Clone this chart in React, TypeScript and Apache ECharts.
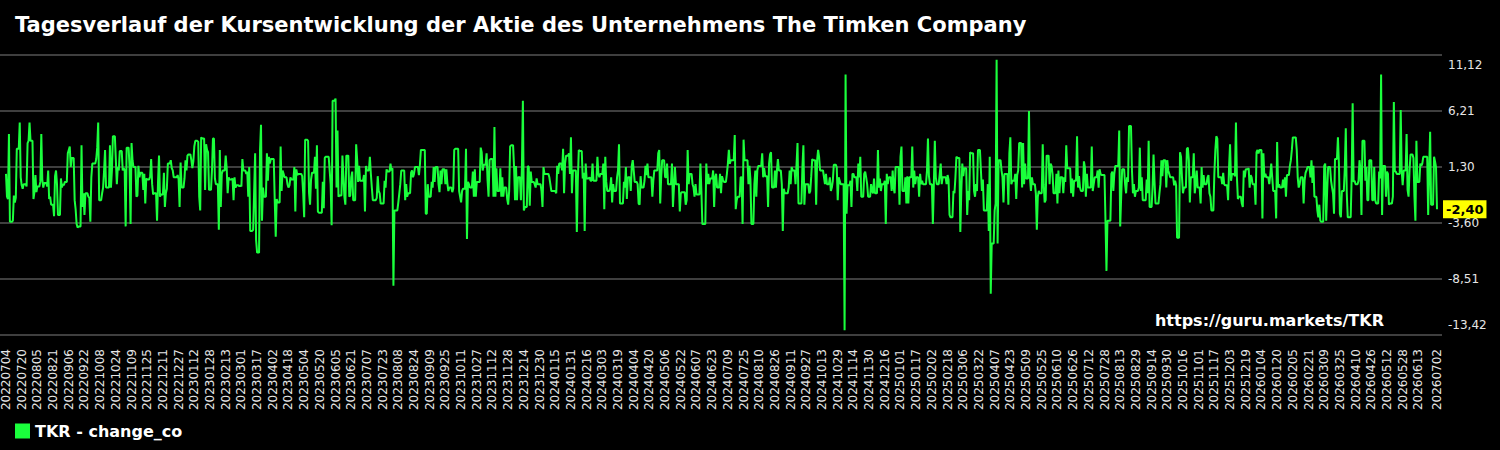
import React, { useEffect, useRef } from 'react';
import * as echarts from 'echarts';

const TITLE = 'Tagesverlauf der Kursentwicklung der Aktie des Unternehmens The Timken Company';
const SERIES_NAME = 'TKR - change_co';
const WATERMARK = 'https://guru.markets/TKR';
const START_DATE = '2022-07-04';
const Y_MIN = -13.42;
const Y_MAX = 11.12;
const yTickLabels = ['-13,42', '-8,51', '-3,60', '1,30', '6,21', '11,12'];
const LABEL_STEP = 16;

// daily change in %, one value per calendar day (weekends repeat Friday)
const seg1 = [
  0.7, -1.3, -1.5, 4.2, -3.5, -3.5, -3.5,
  -3.4, -1.2, -1.8, -1.4, 2.9, 2.9, 2.9,
  5.2, 0.4, -0.3, -0.6, -0.2, -0.2, -0.2,
  -0.4, 3.4, 3.6, 5.2, 3.6, 3.6, 3.6,
  -1.5, -0.9, 0.6, -0.9, -0.4, -0.4, -0.4,
  0.0, 4.2, 0.2, -0.5, -0.1, -0.1, -0.1,
  -0.4, 1.0, -1.5, -1.3, -2.0, -2.0, -2.0,
  -3.0, 0.5, 1.0, -0.2, -2.9, -2.9, -2.9,
  0.3, -0.5, -0.2, -0.3, 0.0, 0.0, 0.0,
  2.5, 2.8, 3.1, 1.3, 2.1, 2.1, 2.1,
  -1.6, -2.4, -3.7, -4.0, -3.9, -3.9, -3.9,
  3.2, -2.2, -1.0, -2.9, -1.0, -1.0, -1.0,
  -1.3, -1.4, -3.5, 0.4, 1.6, 1.6, 1.6,
  1.6, 2.0, 3.0, 5.2, -1.6, -1.6, -1.6,
  -1.0, -0.5, 1.0, 2.8, -0.5, -0.5, -0.5,
  -0.5, 3.2, -0.5, 1.0, 4.0, 4.0, 4.0,
  1.9, -0.2, 1.3, 1.0, 2.7, 2.7, 2.7,
  1.0, 1.2, 1.0, -3.9, 3.0, 3.0, 3.0,
  1.3, -3.7, 3.4, 1.9, 1.3, 1.3, 1.3,
  -1.3, -1.2, 1.4, 0.4, 0.8, 0.8, 0.8,
  -0.7, 0.7, -1.9, 0.3, 0.2, 0.2, 0.2,
  0.5, 2.0, -0.2, -1.1, -1.0, -1.0, -1.0,
  -3.4, 0.0, 2.3, -1.3, -1.1, -1.1, -1.1,
  0.8, -2.2, -1.0, -0.6, 1.6, 1.6, 1.6,
  1.9, 1.2, 1.0, 0.4, 0.4, 0.4, 0.4,
  0.6, 0.2, -2.2, 1.7, -0.5, -0.5, -0.5,
  0.3, 1.9, 1.0, 2.3, 2.4, 2.4, 2.4,
  1.9, 1.2, 1.8, 3.1, 3.6, 3.6, 3.6,
  3.5, -1.3, -2.5, 3.9, 3.8, 3.8, 3.8,
  -0.7, 3.3, 2.8, 2.6, -0.7, -0.7, -0.7,
  1.0, 3.8, 3.8, 0.3, -0.2, -0.2, -0.2,
  -4.2, 2.8, -2.2, 0.7, 1.0, 1.0, 1.0,
  2.3, 1.2, -1.0, 0.4, 0.2, 0.2, 0.2,
  0.3, -1.6, 0.4, -0.5, -0.3, -0.3, -0.3,
  -0.4, -0.3, -0.4, 2.0, 1.0, 1.0, 1.0,
];

const seg2 = [
  0.7, 0.9, -1.3, 1.3, -4.3, -4.3, -4.3,
  -4.2, -0.8, 2.5, -5.1, -6.2, -6.2, -6.2,
  2.8, 5.0, -3.4, -0.5, -1.3, -1.3, -1.3,
  2.5, 0.1, 2.2, 1.6, 2.0, 2.0, 2.0,
  2.0, -1.6, -4.8, -1.5, -1.8, -1.8, -1.8,
  3.1, -0.8, 1.0, 0.7, 0.4, 0.4, 0.4,
  -0.2, -0.5, -0.3, 0.4, 0.2, 0.2, 0.2,
  1.3, -2.6, 1.1, 0.6, 0.7, 0.7, 0.7,
  0.7, 0.5, -1.0, -3.1, 3.7, 3.7, 3.7,
  3.6, -1.0, -2.0, 0.2, 0.8, 0.8, 0.8,
  2.2, -0.6, 3.2, -2.6, -2.7, -2.7, -2.7,
  -2.7, 0.0, -2.3, 2.1, 2.2, 2.2, 2.2,
  2.2, 1.0, -0.2, -3.8, 7.1, 7.1, 7.1,
  7.3, -0.5, 4.5, -1.3, -1.2, -1.2, -1.2,
  2.3, 0.5, -1.3, -2.0, 2.3, 2.3, 2.3,
  -1.3, -1.2, 0.4, 0.9, -1.6, -1.6, -1.6,
  3.3, 2.0, 0.0, 1.4, 0.1, 0.1, 0.1,
  0.1, 0.6, -2.6, 1.4, 1.0, 1.0, 1.0,
  2.2, 0.7, -0.5, -1.6, -1.6, -1.6, -1.6,
  -1.4, 0.5, -0.8, -1.0, -1.9, -1.9, -1.9,
  -1.9, 0.1, -0.5, 1.1, 0.9, 0.9, 0.9,
  1.6, 1.0, 1.2, -9.1, -2.5, -2.5, -2.5,
  -2.5, -1.8, -1.0, -0.2, 1.0, 1.0, 1.0,
  1.0, -1.6, -0.2, -1.3, -1.0, -1.0, -1.0,
  0.8, 1.0, 0.4, 0.7, 1.3, 1.3, 1.3,
  1.3, 0.6, 1.5, 2.8, 2.8, 2.8, 2.8,
  2.8, -2.8, -2.8, -0.2, -1.3, -1.3, -1.3,
  0.0, -0.5, 1.3, 0.0, 1.3, 1.3, 1.3,
  -0.2, -0.9, 1.0, -0.2, 1.1, 1.1, 1.1,
  -0.2, 1.1, -0.1, -0.8, -0.5, -0.5, -0.5,
  -0.9, -0.6, 2.8, 2.9, 2.9, 2.9, 2.9,
  -0.8, -1.3, -1.8, -0.8, -0.6, -0.6, -0.6,
  2.9, -5.0, 0.0, -0.2, -0.5, -0.5, -0.5,
  0.9, -1.3, 1.1, -1.3, 0.0, 0.0, 0.0,
  0.0, 3.0, 2.6, 1.0, 1.5, 1.5, 1.5,
];

const seg3 = [
  2.5, 0.1, -1.3, 1.9, 2.0, 2.0, 2.0,
  -1.3, 4.8, -1.3, 1.2, -0.8, -0.8, -0.8,
  1.2, -1.3, 0.4, -1.3, -0.5, -0.5, -0.5,
  -1.5, -2.0, -0.8, 3.1, 3.2, 3.2, 3.2,
  1.3, -1.6, 1.4, -1.6, 0.4, 0.4, 0.4,
  -1.6, 1.3, 7.1, -2.5, -2.2, -2.2, -2.2,
  1.4, 1.3, -2.1, 0.9, 0.0, 0.0, 0.0,
  -0.2, -0.5, 0.3, -0.2, -0.2, -0.2, -0.2,
  -0.8, -2.2, 1.3, 0.7, 0.7, 0.7, 0.7,
  0.7, 0.4, -0.2, -0.8, -0.8, -0.8, -0.8,
  -0.8, -1.0, 1.4, 0.7, 1.6, 1.6, 1.6,
  1.0, 2.9, -1.0, 1.6, 2.3, 2.3, 2.3,
  2.5, 0.7, 3.9, -1.0, 1.0, 1.0, 1.0,
  1.0, -4.4, 0.1, 2.8, 2.7, 2.7, 2.7,
  0.3, 0.8, -4.3, 1.6, 0.3, 0.3, 0.3,
  0.4, 0.1, 0.1, 1.6, 0.1, 0.1, 0.1,
  0.1, 2.2, 0.7, 0.4, 0.7, 0.7, 0.7,
  1.6, -2.4, 2.2, 0.0, -0.8, -0.8, -0.8,
  -0.5, 0.4, -1.8, -0.2, -0.8, -0.8, -0.8,
  0.4, 1.0, 3.3, -1.9, -1.9, -1.9, -1.9,
  0.0, -0.5, 1.3, -1.5, 0.4, 0.4, 0.4,
  -0.8, 1.4, 1.9, 1.0, 0.0, 0.0, 0.0,
  -0.2, -1.9, -2.0, 0.5, -0.5, -0.5, -0.5,
  0.1, 1.4, 0.6, 1.6, 0.4, 0.4, 0.4,
  0.4, -1.3, 0.1, 1.0, 1.0, 1.0, 1.0,
  2.5, 2.8, -1.9, 0.4, 1.9, 1.9, 1.9,
  0.4, 0.4, 1.6, -0.2, -0.2, -0.2, -0.2,
  1.6, -2.2, -0.5, 1.3, -0.2, -0.2, -0.2,
  -0.2, -2.6, -1.0, -0.9, -0.9, -0.9, -0.9,
  -2.0, -1.6, 2.8, -0.2, 0.7, 0.7, 0.7,
  -0.2, -0.5, -1.3, -0.2, -1.1, -1.1, -1.1,
  -1.1, 1.6, -0.8, -3.7, -3.7, -3.7, -3.7,
  1.6, -0.2, 0.7, -0.2, 0.3, 0.3, 0.3,
  1.0, -2.2, 0.4, 0.7, -0.5, -0.5, -0.5,
  0.7, -1.0, 0.5, 0.2, 0.0, 0.0, 0.0,
];

const seg4 = [
  0.7, 1.6, 2.8, 1.6, 1.9, 1.9, 1.9,
  1.9, 4.1, -2.4, -1.6, -1.3, -1.3, -1.3,
  0.4, 0.4, -3.7, 3.7, 1.9, 1.9, 1.9,
  1.9, -0.2, 1.4, 0.2, -3.7, -3.7, -3.7,
  -0.2, 1.0, -1.3, 1.0, 1.4, 1.4, 1.4,
  1.4, 2.5, 0.4, 1.2, 0.5, 0.5, 0.5,
  -2.2, 1.6, 2.4, 2.6, -0.5, -0.5, -0.5,
  1.0, -0.5, 1.0, 2.0, 1.0, 1.0, 1.0,
  -0.2, -4.3, -0.6, -1.0, -1.0, -1.0, -1.0,
  -0.5, 1.0, -0.2, 1.3, 1.0, 1.0, 1.0,
  -0.2, 1.5, 3.4, -1.9, -1.9, -1.9, -1.9,
  1.3, 3.2, -2.0, -0.2, -0.2, -0.2, -0.2,
  -1.0, -0.8, 0.5, 2.0, 1.9, 1.9, 1.9,
  -2.0, 1.9, 2.8, 2.2, 1.0, 1.0, 1.0,
  1.0, 0.4, -0.2, 0.7, -0.2, -0.2, -0.2,
  0.4, -0.8, -0.5, 0.1, 1.5, 1.5, 1.5,
  1.3, -1.6, 0.4, 0.1, -0.2, -0.2, -0.2,
  -0.2, -13.0, 9.4, -2.8, -0.3, -0.3, -0.3,
  0.1, -2.2, 0.7, 0.7, 0.4, 0.4, 0.4,
  -0.8, 1.6, 0.4, 2.2, -1.3, -1.3, -1.3,
  0.7, 0.9, 0.4, -0.2, -1.3, -1.3, -1.3,
  -0.2, -0.8, -1.0, 0.3, -1.0, -1.0, -1.0,
  2.8, -0.5, 0.3, -0.8, -0.2, -0.2, -0.2,
  0.1, -3.7, 0.7, -0.2, 0.4, 0.4, 0.4,
  -0.8, 1.0, -0.5, -1.0, 1.3, 1.3, 1.3,
  1.3, -2.0, 2.2, 3.1, -0.8, -0.8, -0.8,
  0.4, -1.9, 0.5, -1.9, 0.4, 0.4, 0.4,
  3.1, -0.5, 1.0, -0.2, 0.4, 0.4, 0.4,
  -1.3, 0.7, -0.2, 0.1, -0.2, -0.2, -0.2,
  -0.2, 1.0, 3.8, 0.5, -0.2, -0.2, -0.2,
  -3.7, -0.2, 3.6, 0.4, -0.2, -0.2, -0.2,
  0.7, 1.6, -0.2, 0.4, 0.4, 0.4, 0.4,
  -0.2, 0.6, 0.2, -2.9, -3.1, -3.1, -3.1,
  -0.8, -1.0, 0.4, 2.2, 2.1, 2.1, 2.1,
  -4.4, -0.8, 1.6, 0.5, 1.2, 1.2, 1.2,
];

const seg5 = [
  -2.9, -0.8, -1.6, 2.6, 2.5, 2.5, 2.5,
  -0.8, -1.3, -0.2, -0.8, 2.8, 2.8, 2.8,
  1.0, -0.8, 0.2, -2.5, -2.5, -2.5, -2.5,
  -0.2, -4.3, 2.2, -9.8, -5.4, -5.4, -5.4,
  -2.5, -1.9, 10.7, -5.4, 1.9, 1.9, 1.9,
  1.0, 0.4, -1.8, 0.7, 0.7, 0.7, 0.7,
  -2.0, 2.5, 3.9, -0.2, 0.1, 0.1, 0.1,
  0.7, -1.5, 0.6, 1.0, 3.4, 3.4, 3.4,
  -0.5, 3.4, -0.2, 1.6, 0.3, 0.3, 0.3,
  6.2, 0.4, -0.8, 0.4, -0.2, -0.2, -0.2,
  -1.0, -4.2, -1.3, -0.8, -1.0, -1.0, -1.0,
  3.3, -0.2, -1.8, -1.6, 2.3, 2.3, 2.3,
  -0.2, 1.6, 1.4, 0.7, -1.0, -1.0, -1.0,
  0.7, -1.9, 1.0, -1.0, 0.4, 0.4, 0.4,
  -1.0, 0.4, 0.0, 3.2, 1.2, 1.2, 1.2,
  1.2, -1.0, 0.3, -1.3, 0.1, 0.1, 0.1,
  4.0, -0.5, 0.5, -0.5, -0.8, -0.8, -0.8,
  1.8, 1.3, -1.3, 0.7, -0.5, -0.5, -0.5,
  -0.5, 3.1, -0.8, -0.2, 0.4, 0.4, 0.4,
  1.0, -0.5, 1.1, 0.7, 0.6, 0.6, 0.6,
  0.6, -3.4, -7.8, -3.4, -3.4, -3.4, -3.4,
  0.7, 0.9, -0.8, 0.7, 1.4, 1.4, 1.4,
  1.4, 4.5, -3.9, -1.3, 1.1, 1.1, 1.1,
  -0.2, -1.0, 0.4, 0.0, 4.9, 4.9, 4.9,
  1.0, -1.0, -0.2, -1.3, -0.8, -0.8, -0.8,
  -0.5, 3.0, -0.8, 0.4, -1.6, -1.6, -1.6,
  -1.6, 0.2, -1.0, 3.6, -2.2, -2.2, -2.2,
  -0.5, 2.4, 0.0, -1.9, -1.9, -1.9, -1.9,
  -1.0, -0.2, 1.9, 0.5, 1.9, 1.9, 1.9,
  -0.5, 1.9, 1.0, 0.7, 0.4, 0.4, 0.4,
  0.4, -0.3, 0.1, -0.3, -4.9, -4.9, -4.9,
  2.6, 2.2, 0.4, -1.0, -0.5, -0.5, -0.5,
  2.9, 3.0, 1.9, -1.8, 0.4, 0.4, 0.4,
  2.5, -1.0, -0.2, 1.0, -0.5, -0.5, -0.5,
  -1.9, 1.3, -0.5, 0.6, -0.2, -0.2, -0.2,
];

const seg6 = [
  0.4, 0.6, -1.0, -1.3, -2.5, -2.5, -2.5,
  0.7, 2.8, 4.0, 3.8, 0.4, 0.4, 0.4,
  0.4, -0.2, 0.8, -0.2, -0.3, -0.3, -0.3,
  -1.6, 1.3, 3.3, 0.1, 0.7, 0.7, 0.7,
  0.5, 5.2, 0.4, -1.5, -1.3, -1.3, -1.3,
  -1.9, -2.2, 1.0, 0.4, 1.1, 1.1, 1.1,
  1.2, -0.5, 0.6, 0.4, -0.2, -0.2, -0.2,
  -2.0, 2.6, 2.8, 2.5, 2.8, 2.8, 2.8,
  -3.2, 2.5, 0.4, 0.7, 0.4, 0.4, 0.4,
  -0.2, 0.6, 1.6, 0.4, -0.8, -0.8, -0.8,
  -3.2, 3.5, -0.5, -0.2, -0.5, -0.5, -0.5,
  0.2, -0.5, 0.4, -1.3, 0.6, 0.6, 0.6,
  1.4, 1.9, 2.8, 3.9, 3.9, 3.9, 3.9,
  2.8, 0.4, -0.5, -0.2, 0.4, 0.4, 0.4,
  -1.9, 0.1, 0.8, 1.0, 1.3, 1.3, 1.3,
  0.4, 1.9, -0.1, 1.4, -1.3, -1.3, -1.3,
  -2.5, -3.1, -2.0, -3.4, -3.5, -3.5, -3.5,
  1.4, 1.6, -3.4, -0.8, 1.3, 1.3, 1.3,
  0.1, -0.5, -1.0, -2.8, 2.0, 2.0, 2.0,
  3.9, 1.6, -2.8, -3.1, -0.8, -0.8, -0.8,
  1.2, 4.7, -1.0, -3.1, -3.1, -3.1, -3.1,
  0.4, 6.9, 0.0, 0.1, -0.2, -0.2, -0.2,
  0.1, 1.9, 1.0, -2.9, 3.6, 3.6, 3.6,
  0.1, 1.3, -1.6, -1.6, 1.9, 1.9, 1.9,
  -1.6, -1.6, 1.3, -1.6, -1.9, -1.9, -1.9,
  0.9, 0.3, 9.4, -2.9, 1.4, 1.4, 1.4,
  -1.3, 0.9, 0.7, -2.0, -1.9, -1.9, -1.9,
  -1.3, 7.0, 0.9, 0.9, 0.7, 0.7, 0.7,
  0.7, 6.3, 1.0, -0.3, 1.0, 1.0, 1.0,
  4.2, -0.7, -1.3, 1.0, 2.4, 2.4, 2.4,
  2.1, -1.3, -3.4, 3.6, 0.0, 0.0, 0.0,
  1.6, 1.4, 1.6, 2.2, 2.2, 2.2, 2.2,
  2.2, -2.9, 1.1, 4.4, -2.0, -2.0, -2.0,
  2.2, 1.8, 1.3, -2.4,
];

const values: number[] = [...seg1, ...seg2, ...seg3, ...seg4, ...seg5, ...seg6];

function buildDates(start: string, n: number): string[] {
  const t0 = new Date(start + 'T00:00:00Z').getTime();
  const out: string[] = [];
  for (let i = 0; i < n; i++) {
    out.push(new Date(t0 + i * 86400000).toISOString().slice(0, 10).replace(/-/g, ''));
  }
  return out;
}

const dates = buildDates(START_DATE, values.length);

export default function App() {
  const ref = useRef<HTMLDivElement>(null);
  useEffect(() => {
    if (!ref.current) return;
    const chart = echarts.init(ref.current, null, { renderer: 'svg' });
    const n = values.length;
    const font = 'DejaVu Sans';
    const lastTick = yTickLabels.length - 1;
    chart.setOption({
      animation: false,
      backgroundColor: '#000000',
      textStyle: { fontFamily: font },
      title: {
        text: TITLE,
        left: 10,
        top: 9,
        textStyle: { color: '#ffffff', fontSize: 21, fontWeight: 'bold', fontFamily: font },
      },
      legend: {
        data: [SERIES_NAME],
        left: 15,
        top: 423,
        padding: 0,
        icon: 'rect',
        itemWidth: 15,
        itemHeight: 15,
        textStyle: { color: '#ffffff', fontSize: 16, fontWeight: 'bold', fontFamily: font },
      },
      grid: [
        { left: 5, right: 63, top: 55, bottom: 115 },
        { left: 0, right: 58, top: 55, bottom: 115 },
      ],
      xAxis: [
        {
          type: 'category',
          gridIndex: 0,
          data: dates,
          boundaryGap: false,
          axisLine: { show: false },
          axisTick: { show: false },
          splitLine: { show: false },
          axisLabel: {
            rotate: 90,
            color: '#e6e6e6',
            fontSize: 12,
            fontFamily: font,
            margin: 14,
            interval: (i: number) => (i % LABEL_STEP === 0 && i < n - 8) || i === n - 1,
          },
        },
        { type: 'value', gridIndex: 1, min: 0, max: 1, show: false },
      ],
      yAxis: [
        { type: 'value', gridIndex: 0, min: Y_MIN, max: Y_MAX, show: false },
        {
          type: 'value',
          gridIndex: 1,
          min: 0,
          max: lastTick,
          interval: 1,
          position: 'right',
          axisLine: { show: false },
          axisTick: { show: false },
          splitLine: { show: true, lineStyle: { color: '#555555', width: 1.5 } },
          axisLabel: {
            color: '#e6e6e6',
            fontSize: 12,
            fontFamily: font,
            margin: 6,
            formatter: (v: number) => {
              const k = Math.round(v);
              const t = yTickLabels[k];
              if (k === lastTick) return '{hi|' + t + '}';
              if (k === 0) return '{lo|' + t + '}';
              return t;
            },
            verticalAlignMaxLabel: 'top',
            verticalAlignMinLabel: 'bottom',
            rich: {
              hi: { color: '#e6e6e6', fontSize: 12, fontFamily: font, padding: [4, 0, 0, 0] },
              lo: { color: '#e6e6e6', fontSize: 12, fontFamily: font, padding: [0, 0, 4, 0] },
            },
          },
        },
      ],
      series: [
        {
          name: SERIES_NAME,
          type: 'line',
          xAxisIndex: 0,
          yAxisIndex: 0,
          data: values,
          showSymbol: false,
          color: '#1aff3c',
          lineStyle: { width: 2, color: '#1aff3c' },
          z: 3,
          endLabel: {
            show: true,
            formatter: (p: any) => Number(p.value).toFixed(2).replace('.', ','),
            backgroundColor: '#ffff00',
            color: '#000000',
            fontWeight: 'bold',
            fontSize: 13,
            fontFamily: font,
            padding: [3, 3, 2, 3],
            distance: 6,
          },
        },
      ],
      graphic: [
        {
          type: 'text',
          right: 116,
          top: 312,
          z: 10,
          style: { text: WATERMARK, fill: '#ffffff', font: 'bold 16px "DejaVu Sans"' },
        },
      ],
    });
    return () => chart.dispose();
  }, []);
  return (
    <div
      ref={ref}
      style={{ position: 'fixed', left: 0, top: 0, width: 1500, height: 450, background: '#000' }}
    />
  );
}
